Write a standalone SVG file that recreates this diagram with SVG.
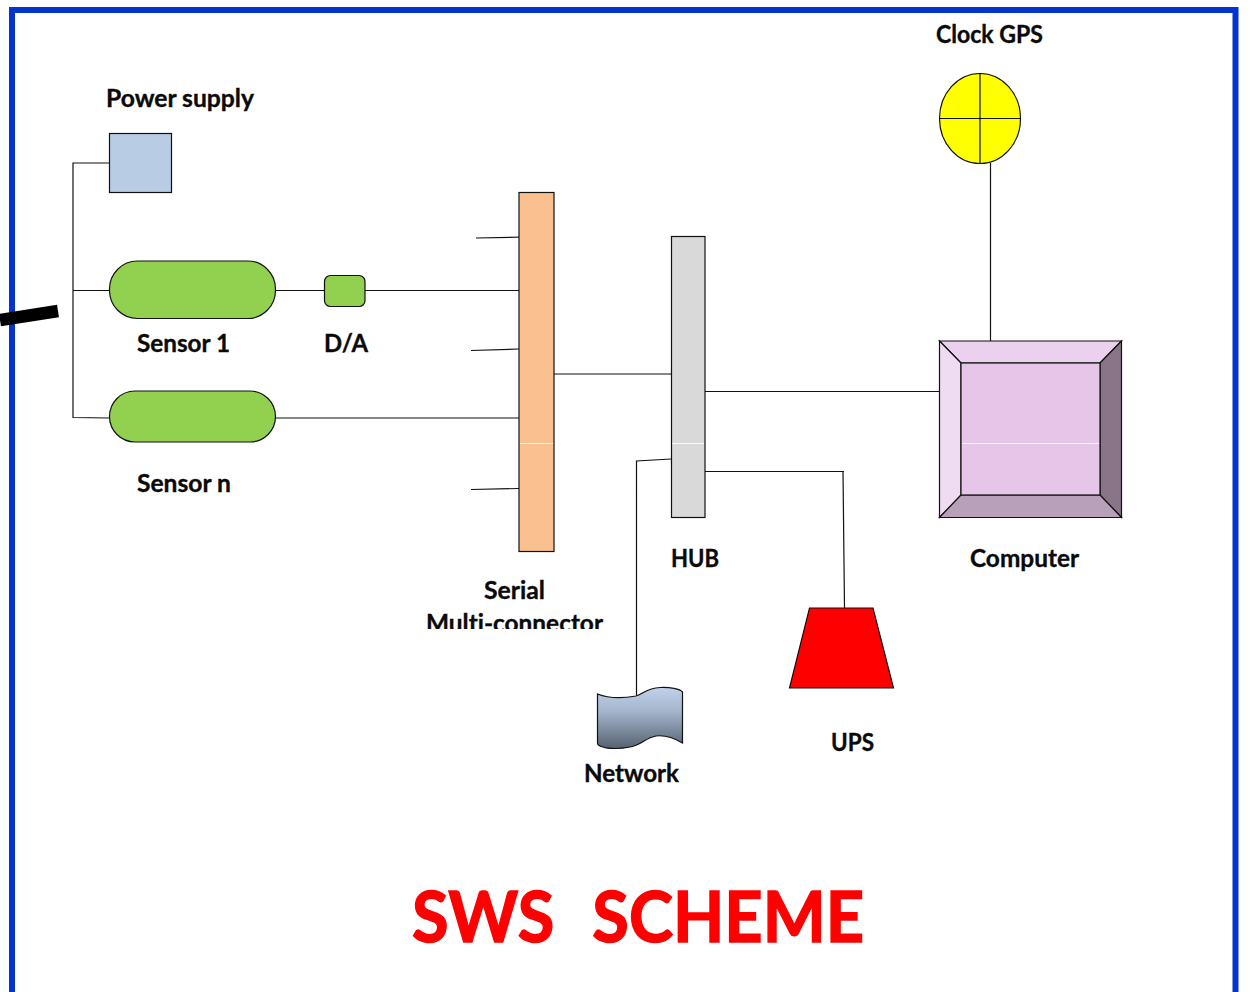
<svg xmlns="http://www.w3.org/2000/svg" width="1251" height="992" viewBox="0 0 1251 992">
<style>
.l{font-family:Lato,"Open Sans","Liberation Sans",sans-serif;font-weight:700;font-size:24px;fill:#0a0a0a;stroke:#0a0a0a;stroke-width:.35;font-variant-ligatures:none}
.s{stroke:#111;stroke-width:1.2}
.c{fill:none;stroke:#111;stroke-width:1.2}
.w{stroke:#fff;stroke-width:1;opacity:.85}
</style>
<defs>
<linearGradient id="net" x1="0" y1="0" x2="0" y2="1"><stop offset="0" stop-color="#c0d2ea"/><stop offset=".4" stop-color="#a3b4cb"/><stop offset="1" stop-color="#566270"/></linearGradient>
<clipPath id="mc"><rect x="400" y="570" width="240" height="59"/></clipPath>
</defs>
<rect width="1251" height="992" fill="#fff"/>
<path d="M12 992V10H1235.500V992" fill="none" stroke="#0433d0" stroke-width="6"/>
<g id="connectors">
<path class="c" d="M109 163H73V417.500L109 418M73 290.500H109M275 290.500H325M365 290.500H519M476 238L525 237M471 350.500L519 349M275 418H519M471 489.500L519 488.500M554 374H671M705 391.500H940M990.500 163V341M705 471.500H844M843 471.500L844.500 608M671 459L636.500 461V697"/>
<path d="M0 320L58 311" stroke="#000" stroke-width="12.500" fill="none"/>
</g>
<g id="power-supply"><rect x="109.500" y="133.500" width="62" height="59" fill="#b8cce4" class="s"/><text class="l" x="106" y="106.500" textLength="148" lengthAdjust="spacingAndGlyphs">Power supply</text></g>
<g id="sensor-1"><rect x="109.500" y="261" width="166" height="57.500" rx="28" fill="#92d050" class="s"/><text class="l" x="137" y="351.500" textLength="93" lengthAdjust="spacingAndGlyphs">Sensor 1</text></g>
<g id="da"><rect x="324.500" y="275.500" width="40.500" height="31" rx="6" fill="#92d050" class="s"/><text class="l" x="324" y="351.500" textLength="44" lengthAdjust="spacingAndGlyphs">D/A</text></g>
<g id="sensor-n"><rect x="109.500" y="391" width="166" height="51" rx="25.500" fill="#92d050" class="s"/><text class="l" x="137" y="491.500" textLength="94" lengthAdjust="spacingAndGlyphs">Sensor n</text></g>
<g id="serial"><rect x="519" y="192.500" width="35" height="359" fill="#fac090" class="s"/><line class="w" x1="520" y1="443.500" x2="553" y2="443.500"/><text class="l" x="484" y="598.500" textLength="61" lengthAdjust="spacingAndGlyphs">Serial</text><text class="l" x="426" y="631.500" textLength="177" lengthAdjust="spacingAndGlyphs" clip-path="url(#mc)">Multi-connector</text></g>
<g id="hub"><rect x="671.500" y="236.500" width="33.500" height="281" fill="#d9d9d9" class="s"/><line class="w" x1="672" y1="443.500" x2="704" y2="443.500"/><text class="l" x="671" y="566.500" textLength="48" lengthAdjust="spacingAndGlyphs">HUB</text></g>
<g id="clock"><ellipse cx="980" cy="118.500" rx="40.500" ry="45" fill="#ff0" class="s"/><path class="c" d="M980 73.500V163.500M939.500 118.500H1020.500"/><text class="l" x="936" y="42.500" textLength="107" lengthAdjust="spacingAndGlyphs">Clock GPS</text></g>
<g id="computer">
<rect x="939.500" y="341" width="182" height="176.500" fill="#e6c6e8"/>
<path d="M939.500 341H1121.500L1100 363H961Z" fill="#ebd1ee" class="s"/>
<path d="M939.500 341L961 363V495L939.500 517.500Z" fill="#f0dcf2" class="s"/>
<path d="M1121.500 341V517.500L1100 495V363Z" fill="#8a7488" class="s"/>
<path d="M939.500 517.500H1121.500L1100 495H961Z" fill="#b8a0ba" class="s"/>
<rect x="961" y="363" width="139" height="132" fill="#e6c6e8" class="s"/>
<line class="w" x1="962" y1="443.500" x2="1099" y2="443.500"/>
<text class="l" x="970" y="566.500" textLength="109" lengthAdjust="spacingAndGlyphs">Computer</text></g>
<g id="ups"><path d="M809.500 608H873L893.500 688H789.500Z" fill="#f00" class="s"/><text class="l" x="831" y="750.500" textLength="43" lengthAdjust="spacingAndGlyphs">UPS</text></g>
<g id="network"><path d="M597.500 694C610 699 625 698 636 696C644 694 646 688 660 687.500C670 687 680 689 682.500 692V743C674 738 664 735 656 736C645 738 642 745 630 747C620 749 608 749 603 747C599 746 597.500 745 597.500 743Z" fill="url(#net)" class="s"/><text class="l" x="584" y="781.500" textLength="95" lengthAdjust="spacingAndGlyphs">Network</text></g>
<text x="412" y="941.500" font-family="Lato,'Open Sans','Liberation Sans',sans-serif" font-weight="700" font-size="71" fill="#f00" stroke="#f00" stroke-width="1.500" xml:space="preserve" word-spacing="3" textLength="452" lengthAdjust="spacingAndGlyphs">SWS  SCHEME</text>
</svg>
